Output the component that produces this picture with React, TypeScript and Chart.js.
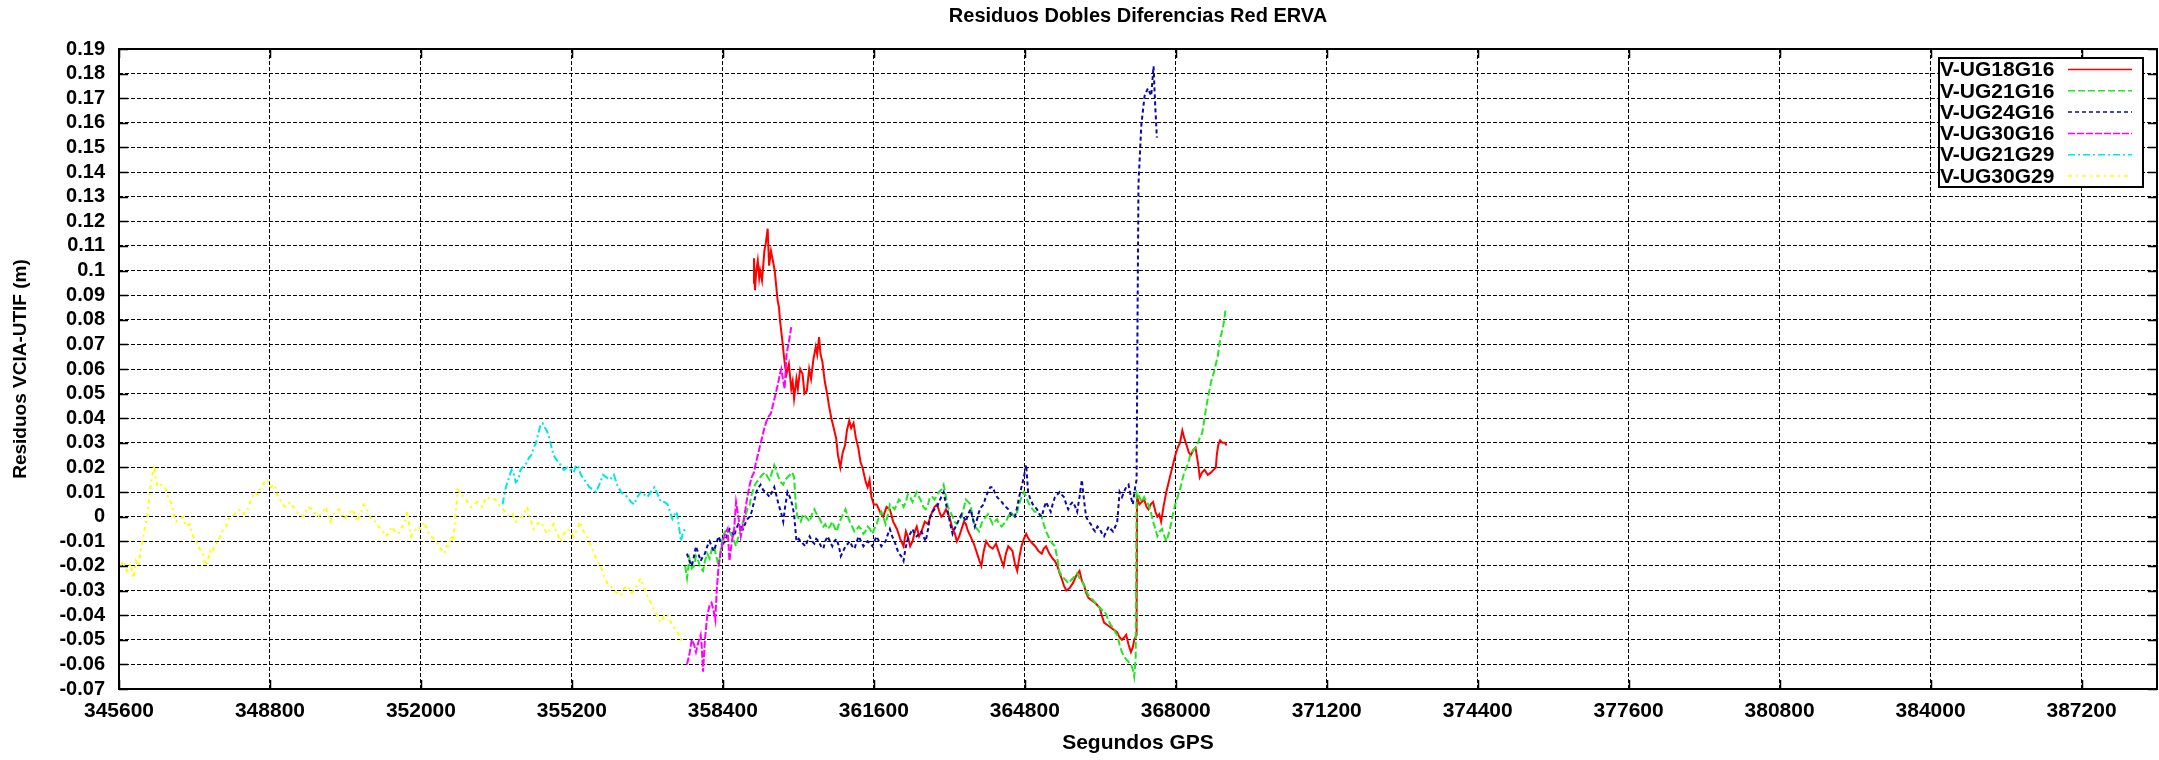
import { useEffect, useRef } from "react";
import { Chart, registerables } from "chart.js";

Chart.register(...registerables);

const FONT = "'Liberation Sans', Arial, sans-serif";

// Axis ranges (GPS seconds of week / residual in metres)
const X_MIN = 345600;
const X_MAX = 388800;
const Y_MIN = -0.07;
const Y_MAX = 0.19;
const Y_STEP = 0.01;
const xTickValues = [
  345600, 348800, 352000, 355200, 358400, 361600, 364800, 368000, 371200, 374400, 377600, 380800, 384000, 387200,
];

const TITLE = "Residuos Dobles Diferencias Red ERVA";
const X_TITLE = "Segundos GPS";
const Y_TITLE = "Residuos VCIA-UTIF (m)";

const seriesLabels = ["V-UG18G16", "V-UG21G16", "V-UG24G16", "V-UG30G16", "V-UG21G29", "V-UG30G29"];
const seriesColors = ["#ff0000", "#22e622", "#0a0aa8", "#ff00ff", "#00e6e6", "#ffff00"];
const seriesDashes = [[], [7, 3], [4, 3], [7, 2], [7, 3, 2, 3], [4, 4, 2, 4]];

// V-UG18G16
const ug18g16Time = [
  359040, 359060, 359080, 359110, 359140, 359170, 359190, 359230, 359260, 359280, 359310, 359350, 359380, 359420,
  359460, 359500, 359530, 359560, 359590, 359610, 359640, 359670, 359690, 359720, 359750, 359800, 359850, 359880,
  359910, 359960, 359990, 360040, 360090, 360130, 360180, 360230, 360270, 360320, 360370, 360400, 360440, 360470,
  360510, 360560, 360610, 360650, 360700, 360750, 360800, 360840, 360890, 360940, 360990, 361030, 361080, 361120,
  361170, 361220, 361270, 361320, 361360, 361430, 361470, 361510, 361550, 361600, 361660, 361730, 361800, 361870,
  361940, 362010, 362090, 362160, 362230, 362280, 362320, 362370, 362420, 362470, 362510, 362560, 362610, 362680,
  362750, 362800, 362840, 362890, 362940, 362990, 363030, 363080, 363130, 363200, 363270, 363320, 363360, 363410,
  363460, 363510, 363550, 363600, 363650, 363720, 363790, 363840, 363880, 363930, 363980, 364050, 364120, 364190,
  364260, 364310, 364350, 364400, 364450, 364500, 364540, 364590, 364640, 364690, 364730, 364780, 364830, 364880,
  364920, 364970, 365020, 365090, 365160, 365200, 365250, 365320, 365390, 365440, 365490, 365540, 365580, 365630,
  365680, 365750, 365820, 365890, 365960, 366010, 366060, 366100, 366150, 366220, 366290, 366340, 366390, 366430,
  366480, 366550, 366620, 366690, 366760, 366810, 366860, 366910, 366950, 367000, 367050, 367090, 367120, 367170,
  367180, 367230, 367280, 367330, 367380, 367420, 367470, 367520, 367570, 367610, 367650, 367690, 367740, 367800,
  367850, 367900, 367940, 367990, 368040, 368090, 368140, 368180, 368230, 368280, 368320, 368370, 368420, 368470,
  368510, 368560, 368610, 368680, 368750, 368800, 368850, 368870, 368900, 368940, 368990, 369040, 369080,
];
const ug18g16Res = [
  0.095, 0.105, 0.092, 0.1, 0.104, 0.097, 0.1, 0.096, 0.103, 0.108, 0.111, 0.117, 0.102, 0.108,
  0.104, 0.1, 0.094, 0.088, 0.085, 0.08, 0.075, 0.07, 0.066, 0.061, 0.058, 0.062, 0.052, 0.055,
  0.048, 0.056, 0.052, 0.06, 0.058, 0.05, 0.051, 0.06, 0.056, 0.064, 0.069, 0.066, 0.073, 0.066,
  0.063, 0.055, 0.05, 0.045, 0.04, 0.036, 0.032, 0.025, 0.02, 0.026, 0.029, 0.035, 0.039, 0.036,
  0.038, 0.032, 0.028, 0.022, 0.02, 0.014, 0.012, 0.015, 0.008, 0.005, 0.005, 0.002, 0.0, 0.004,
  0.003, -0.002, -0.005, -0.009, -0.012, -0.006, -0.008, -0.012, -0.01, -0.006, -0.004, -0.008, -0.006, -0.002,
  -0.003, 0.0, 0.002, 0.004, 0.005, 0.002, 0.0, 0.001, 0.003, 0.0, -0.005, -0.007, -0.01, -0.008,
  -0.005, -0.002, -0.003, -0.006, -0.008, -0.011, -0.015, -0.018, -0.02, -0.014, -0.01, -0.012, -0.013, -0.011,
  -0.015, -0.018, -0.02, -0.015, -0.012, -0.013, -0.014, -0.019, -0.022, -0.016, -0.012, -0.009, -0.007, -0.009,
  -0.01, -0.011, -0.012, -0.014, -0.015, -0.013, -0.012, -0.015, -0.017, -0.018, -0.02, -0.023, -0.025, -0.028,
  -0.03, -0.029, -0.027, -0.024, -0.022, -0.026, -0.028, -0.031, -0.033, -0.034, -0.035, -0.036, -0.037, -0.04,
  -0.043, -0.044, -0.045, -0.046, -0.047, -0.049, -0.05, -0.049, -0.048, -0.052, -0.055, -0.053, -0.05, -0.048,
  0.008, 0.005, 0.006, 0.007, 0.004, 0.003, 0.005, 0.006, 0.002, 0.0, 0.001, -0.002, 0.004, 0.01,
  0.014, 0.018, 0.021, 0.025, 0.028, 0.03, 0.035, 0.032, 0.029, 0.026, 0.025, 0.027, 0.028, 0.022,
  0.016, 0.018, 0.019, 0.017, 0.018, 0.019, 0.02, 0.025, 0.029, 0.031, 0.03, 0.03, 0.029,
];

// V-UG21G16
const ug21g16Time = [
  357600, 357640, 357690, 357740, 357790, 357830, 357880, 357930, 357980, 358020, 358070, 358120, 358170, 358210,
  358260, 358310, 358350, 358400, 358450, 358500, 358540, 358590, 358640, 358680, 358730, 358780, 358830, 358870,
  358920, 358970, 359010, 359060, 359110, 359160, 359230, 359300, 359350, 359390, 359440, 359490, 359530, 359580,
  359630, 359680, 359720, 359770, 359820, 359870, 359910, 359930, 359950, 359980, 360020, 360050, 360100, 360150,
  360200, 360240, 360290, 360340, 360390, 360430, 360480, 360530, 360570, 360620, 360670, 360720, 360760, 360810,
  360860, 360900, 360950, 361000, 361050, 361090, 361140, 361190, 361240, 361280, 361330, 361380, 361420, 361470,
  361520, 361570, 361610, 361660, 361710, 361760, 361800, 361850, 361900, 361940, 361990, 362040, 362090, 362130,
  362180, 362230, 362280, 362320, 362370, 362420, 362460, 362510, 362560, 362610, 362650, 362700, 362750, 362790,
  362840, 362890, 362940, 362980, 363030, 363080, 363120, 363170, 363220, 363270, 363310, 363360, 363410, 363460,
  363500, 363550, 363600, 363650, 363690, 363740, 363790, 363830, 363880, 363930, 363980, 364020, 364070, 364120,
  364160, 364210, 364260, 364310, 364350, 364400, 364450, 364500, 364540, 364590, 364640, 364680, 364730, 364780,
  364830, 364870, 364920, 364970, 365010, 365060, 365110, 365160, 365200, 365250, 365300, 365350, 365390, 365440,
  365490, 365530, 365580, 365630, 365680, 365720, 365770, 365820, 365870, 365910, 365960, 366010, 366060, 366100,
  366150, 366200, 366250, 366290, 366340, 366390, 366440, 366480, 366530, 366570, 366620, 366670, 366720, 366760,
  366810, 366860, 366910, 366950, 367000, 367050, 367090, 367120, 367150, 367170, 367230, 367280, 367330, 367380,
  367420, 367470, 367520, 367570, 367610, 367660, 367710, 367760, 367800, 367850, 367900, 367940, 367990, 368040,
  368090, 368140, 368180, 368230, 368280, 368320, 368370, 368420, 368470, 368510, 368560, 368610, 368650, 368700,
  368750, 368800, 368850, 368890, 368940, 368990, 369030, 369060,
];
const ug21g16Res = [
  -0.02, -0.025, -0.017, -0.021, -0.02, -0.016, -0.018, -0.021, -0.022, -0.018, -0.015, -0.017, -0.013, -0.012,
  -0.016, -0.02, -0.014, -0.008, -0.006, -0.005, -0.006, -0.008, -0.01, -0.012, -0.008, -0.005, -0.002, 0.0,
  0.003, 0.005, 0.009, 0.012, 0.014, 0.015, 0.017, 0.018, 0.016, 0.015, 0.018, 0.021, 0.019, 0.016,
  0.014, 0.013, 0.015, 0.016, 0.017, 0.018, 0.016, 0.01, 0.004, 0.0, -0.001, -0.002, 0.001, 0.0,
  -0.001, -0.002, 0.001, 0.003, 0.001, 0.0, -0.002, -0.004, -0.003, -0.005, -0.004, -0.002, -0.004, -0.006,
  -0.003, -0.001, 0.001, 0.003, 0.0, -0.002, -0.004, -0.006, -0.005, -0.004, -0.005, -0.007, -0.006, -0.004,
  -0.005, -0.007, -0.005, -0.003, 0.0, 0.002, 0.0, -0.003, 0.001, 0.005, 0.004, 0.003, 0.005, 0.007,
  0.006, 0.004, 0.006, 0.009, 0.008, 0.006, 0.008, 0.01, 0.008, 0.006, 0.004, 0.003, 0.005, 0.008,
  0.008, 0.007, 0.009, 0.01, 0.011, 0.013, 0.009, 0.004, 0.002, 0.0, -0.002, -0.003, -0.001, 0.0,
  0.003, 0.007, 0.006, 0.005, 0.0, -0.004, -0.005, -0.006, -0.003, -0.001, 0.0, 0.001, -0.001, -0.003,
  -0.002, -0.001, -0.003, -0.004, -0.003, -0.002, 0.0, 0.002, 0.001, 0.0, 0.002, 0.005, 0.008, 0.01,
  0.008, 0.006, 0.004, 0.003, 0.002, 0.002, 0.001, 0.0, -0.003, -0.006, -0.008, -0.01, -0.011, -0.012,
  -0.017, -0.022, -0.024, -0.025, -0.026, -0.027, -0.026, -0.025, -0.024, -0.023, -0.025, -0.026, -0.028, -0.03,
  -0.032, -0.033, -0.034, -0.035, -0.036, -0.037, -0.038, -0.038, -0.04, -0.042, -0.044, -0.045, -0.047, -0.048,
  -0.052, -0.055, -0.057, -0.058, -0.059, -0.06, -0.062, -0.065, -0.058, 0.01, 0.008, 0.006, 0.008, 0.006,
  0.005, 0.002, -0.002, -0.005, -0.008, -0.006, -0.005, -0.008, -0.01, -0.007, -0.003, 0.001, 0.005, 0.008,
  0.011, 0.015, 0.018, 0.02, 0.023, 0.026, 0.027, 0.028, 0.03, 0.032, 0.034, 0.04, 0.045, 0.05,
  0.055, 0.058, 0.062, 0.065, 0.072, 0.076, 0.08, 0.085,
];

// V-UG24G16
const ug24g16Time = [
  357640, 357690, 357740, 357790, 357830, 357880, 357930, 357980, 358020, 358070, 358120, 358160, 358210, 358260,
  358310, 358350, 358400, 358450, 358500, 358540, 358590, 358640, 358680, 358730, 358780, 358830, 358870, 358920,
  358970, 359010, 359060, 359110, 359160, 359200, 359250, 359300, 359350, 359390, 359440, 359490, 359530, 359580,
  359630, 359680, 359720, 359770, 359820, 359870, 359910, 359960, 360010, 360050, 360100, 360150, 360190, 360240,
  360290, 360340, 360380, 360430, 360480, 360530, 360570, 360620, 360670, 360720, 360760, 360810, 360860, 360900,
  360950, 361000, 361050, 361090, 361140, 361190, 361240, 361280, 361330, 361380, 361420, 361470, 361520, 361570,
  361610, 361660, 361710, 361760, 361800, 361850, 361900, 361940, 361990, 362040, 362090, 362130, 362180, 362230,
  362270, 362320, 362370, 362420, 362460, 362510, 362560, 362610, 362650, 362700, 362750, 362790, 362840, 362890,
  362940, 362980, 363030, 363080, 363120, 363170, 363220, 363270, 363310, 363360, 363410, 363460, 363500, 363550,
  363600, 363650, 363690, 363740, 363790, 363830, 363880, 363930, 363970, 364020, 364070, 364120, 364160, 364210,
  364260, 364310, 364350, 364400, 364450, 364500, 364540, 364590, 364640, 364680, 364730, 364780, 364830, 364870,
  364920, 364970, 365010, 365060, 365110, 365160, 365200, 365250, 365300, 365350, 365390, 365440, 365490, 365540,
  365580, 365630, 365680, 365720, 365770, 365820, 365870, 365910, 365960, 366010, 366060, 366100, 366150, 366200,
  366250, 366290, 366340, 366390, 366440, 366480, 366530, 366580, 366620, 366670, 366720, 366760, 366810, 366860,
  366900, 366950, 367000, 367050, 367090, 367140, 367170, 367190, 367210, 367270, 367340, 367410, 367480, 367530,
  367560, 367600,
];
const ug24g16Res = [
  -0.015, -0.018, -0.02, -0.016, -0.012, -0.015, -0.018, -0.016, -0.015, -0.012, -0.01, -0.012, -0.014, -0.011,
  -0.008, -0.01, -0.011, -0.01, -0.007, -0.005, -0.006, -0.008, -0.005, -0.003, -0.004, -0.005, -0.003, -0.001,
  0.0, 0.002, 0.006, 0.01, 0.012, 0.013, 0.011, 0.01, 0.009, 0.008, 0.01, 0.012, 0.009, 0.005,
  0.002, -0.002, 0.004, 0.01, 0.008, 0.005, 0.001, -0.01, -0.009, -0.01, -0.011, -0.012, -0.01, -0.008,
  -0.01, -0.011, -0.009, -0.01, -0.012, -0.013, -0.01, -0.008, -0.01, -0.012, -0.01, -0.009, -0.012, -0.016,
  -0.014, -0.012, -0.011, -0.01, -0.012, -0.013, -0.01, -0.008, -0.01, -0.012, -0.011, -0.01, -0.011, -0.012,
  -0.01, -0.008, -0.01, -0.012, -0.011, -0.01, -0.007, -0.005, -0.008, -0.01, -0.013, -0.015, -0.016, -0.018,
  -0.013, -0.009, -0.007, -0.005, -0.007, -0.008, -0.007, -0.006, -0.008, -0.01, -0.005, 0.0, 0.002, 0.003,
  0.004, 0.006, 0.008, 0.01, 0.006, 0.002, -0.003, -0.007, -0.005, -0.003, -0.001, 0.001, 0.0, -0.002,
  0.001, 0.003, 0.0, -0.004, -0.001, 0.002, 0.004, 0.005, 0.008, 0.01, 0.012, 0.012, 0.01, 0.008,
  0.007, 0.006, 0.005, 0.004, 0.003, 0.001, 0.0, 0.0, 0.004, 0.008, 0.012, 0.016, 0.021, 0.01,
  0.007, 0.005, 0.004, 0.003, 0.001, 0.0, 0.003, 0.006, 0.004, 0.002, 0.005, 0.008, 0.009, 0.01,
  0.009, 0.008, 0.005, 0.003, 0.005, 0.006, 0.004, 0.002, 0.008, 0.015, 0.006, 0.0, -0.002, -0.003,
  -0.005, -0.006, -0.004, -0.005, -0.007, -0.008, -0.006, -0.004, -0.005, -0.006, -0.004, -0.002, 0.01, 0.008,
  0.01, 0.012, 0.013, 0.008, 0.005, 0.012, 0.015, 0.08, 0.135, 0.159, 0.171, 0.174, 0.171, 0.183,
  0.169, 0.154,
];

// V-UG30G16
const ug30g16Time = [
  357640, 357690, 357740, 357790, 357830, 357880, 357930, 357950, 357980, 358020, 358070, 358120, 358160, 358200,
  358240, 358270, 358310, 358350, 358400, 358450, 358500, 358540, 358590, 358640, 358680, 358730, 358780, 358830,
  358870, 358920, 358970, 359010, 359060, 359100, 359140, 359190, 359230, 359280, 359330, 359380, 359420, 359470,
  359520, 359570, 359610, 359640, 359680, 359710, 359750, 359800, 359850,
];
const ug30g16Res = [
  -0.06, -0.056, -0.05, -0.052, -0.055, -0.051, -0.048, -0.052, -0.063, -0.05, -0.04, -0.036, -0.035, -0.038,
  -0.042, -0.03, -0.02, -0.015, -0.01, -0.007, -0.005, -0.018, -0.01, -0.005, 0.006, 0.0, -0.008, -0.003,
  0.002, 0.008, 0.013, 0.016, 0.018, 0.022, 0.025, 0.029, 0.032, 0.036, 0.039, 0.041, 0.042, 0.046,
  0.05, 0.054, 0.058, 0.06, 0.055, 0.052, 0.066, 0.071, 0.077,
];

// V-UG21G29
const ug21g29Time = [
  353730, 353800, 353870, 353920, 353960, 354010, 354060, 354110, 354150, 354200, 354250, 354290, 354340, 354390,
  354440, 354490, 354530, 354580, 354630, 354670, 354720, 354770, 354810, 354880, 354960, 355030, 355100, 355170,
  355240, 355290, 355340, 355390, 355430, 355500, 355570, 355640, 355710, 355780, 355860, 355930, 356000, 356050,
  356090, 356160, 356240, 356310, 356380, 356450, 356520, 356590, 356660, 356730, 356800, 356870, 356950, 357020,
  357090, 357160, 357230, 357280, 357330, 357380, 357420, 357470, 357510, 357560, 357610,
];
const ug21g29Res = [
  0.005, 0.012, 0.016, 0.019, 0.018, 0.014, 0.015, 0.019, 0.02, 0.021, 0.022, 0.024, 0.025, 0.028,
  0.03, 0.034, 0.037, 0.038, 0.036, 0.035, 0.032, 0.028, 0.025, 0.023, 0.021, 0.019, 0.02, 0.019,
  0.018, 0.021, 0.02, 0.017, 0.016, 0.014, 0.012, 0.011, 0.01, 0.013, 0.017, 0.016, 0.015, 0.016,
  0.017, 0.013, 0.01, 0.009, 0.008, 0.006, 0.005, 0.008, 0.01, 0.009, 0.008, 0.01, 0.012, 0.009,
  0.006, 0.006, 0.005, 0.002, -0.001, 0.001, 0.002, -0.004, -0.01, -0.006, -0.005,
];

// V-UG30G29
const ug30g29Time = [
  345630, 345700, 345770, 345840, 345910, 345960, 346010, 346060, 346100, 346150, 346200, 346240, 346290, 346340,
  346390, 346430, 346500, 346575, 346640, 346720, 346770, 346810, 346880, 346950, 347020, 347100, 347170, 347240,
  347310, 347380, 347430, 347480, 347530, 347570, 347640, 347710, 347780, 347850, 347920, 348000, 348090, 348190,
  348260, 348330, 348400, 348470, 348540, 348610, 348680, 348750, 348820, 348900, 348950, 348990, 349060, 349130,
  349230, 349320, 349420, 349510, 349600, 349700, 349800, 349890, 349980, 350080, 350170, 350270, 350360, 350460,
  350550, 350650, 350720, 350790, 350840, 350880, 350950, 351030, 351100, 351170, 351240, 351310, 351380, 351450,
  351520, 351600, 351660, 351710, 351750, 351790, 351860, 351930, 352000, 352070, 352140, 352210, 352280, 352350,
  352420, 352490, 352540, 352590, 352640, 352690, 352730, 352780, 352850, 352920, 352990, 353060, 353130, 353200,
  353300, 353390, 353490, 353580, 353650, 353730, 353800, 353870, 353940, 354010, 354080, 354150, 354250, 354320,
  354390, 354460, 354530, 354600, 354670, 354740, 354810, 354890, 354960, 355030, 355100, 355170, 355240, 355310,
  355380, 355450, 355520, 355600, 355670, 355740, 355810, 355880, 355950, 356020, 356090, 356160, 356240, 356310,
  356380, 356450, 356520, 356590, 356660, 356730, 356800, 356870, 356950, 357020, 357090, 357160, 357230, 357300,
  357370, 357440, 357510, 357560,
];
const ug30g29Res = [
  -0.02, -0.018, -0.022, -0.019, -0.025, -0.018, -0.02, -0.014, -0.01, -0.004, 0.0, 0.008, 0.015, 0.021,
  0.014, 0.012, 0.013, 0.012, 0.008, 0.005, 0.0, -0.002, -0.001, 0.0, -0.004, -0.003, -0.008, -0.01,
  -0.013, -0.015, -0.02, -0.018, -0.014, -0.015, -0.011, -0.01, -0.006, -0.005, -0.001, 0.0, 0.002, 0.003,
  0.001, 0.003, 0.007, 0.01, 0.009, 0.012, 0.014, 0.015, 0.012, 0.013, 0.009, 0.008, 0.005, 0.004,
  0.006, 0.003, 0.001, 0.0, 0.004, 0.003, 0.0, 0.001, 0.004, -0.002, 0.002, 0.003, -0.001, 0.001,
  0.003, -0.002, 0.001, 0.005, 0.004, 0.002, -0.001, -0.002, -0.004, -0.005, -0.008, -0.007, -0.004, -0.006,
  -0.007, -0.004, -0.003, 0.002, -0.003, -0.008, -0.006, -0.004, -0.005, -0.002, -0.006, -0.008, -0.009, -0.011,
  -0.013, -0.015, -0.012, -0.012, -0.008, -0.01, 0.0, 0.011, 0.009, 0.008, 0.006, 0.004, 0.005, 0.006,
  0.004, 0.008, 0.007, 0.007, 0.005, 0.003, 0.002, 0.0, 0.001, -0.002, -0.001, 0.0, 0.004, -0.001,
  -0.005, -0.003, -0.002, -0.004, -0.007, -0.005, -0.003, -0.007, -0.01, -0.007, -0.005, -0.006, -0.008, -0.005,
  -0.002, -0.006, -0.008, -0.012, -0.015, -0.018, -0.02, -0.024, -0.027, -0.028, -0.03, -0.031, -0.032, -0.029,
  -0.028, -0.031, -0.03, -0.027, -0.025, -0.029, -0.032, -0.035, -0.038, -0.041, -0.043, -0.04, -0.04, -0.043,
  -0.045, -0.047, -0.05, -0.049,
];

const seriesTimes = [ug18g16Time, ug21g16Time, ug24g16Time, ug30g16Time, ug21g29Time, ug30g29Time];
const seriesValues = [ug18g16Res, ug21g16Res, ug24g16Res, ug30g16Res, ug21g29Res, ug30g29Res];

const toPoints = (t: number[], v: number[]) => t.map((x, i) => ({ x, y: v[i] }));

// Draws the gnuplot-style frame: key box, full border and inward tick marks.
const framePlugin = {
  id: "gnuplotFrame",
  afterDatasetsDraw(chart: any) {
    const { ctx, chartArea: a } = chart;
    const xs = chart.scales.x;
    const ys = chart.scales.y;
    ctx.save();

    // key
    const kw = 204;
    const kh = 129;
    const kx = a.right - 218;
    const ky = a.top + 9;
    ctx.fillStyle = "#ffffff";
    ctx.fillRect(kx, ky, kw, kh);
    ctx.font = `bold 21px ${FONT}`;
    ctx.textBaseline = "middle";
    ctx.textAlign = "left";
    chart.data.datasets.forEach((ds: any, i: number) => {
      const y = ky + 11.5 + i * 21.3;
      ctx.fillStyle = "#000000";
      ctx.fillText(ds.label, kx + 1, y + 1);
      ctx.strokeStyle = ds.borderColor;
      ctx.lineWidth = 1.5;
      ctx.setLineDash(ds.borderDash || []);
      ctx.beginPath();
      ctx.moveTo(kx + 129, y);
      ctx.lineTo(kx + 193, y);
      ctx.stroke();
    });
    ctx.setLineDash([]);
    ctx.strokeStyle = "#000000";
    ctx.lineWidth = 2;
    ctx.strokeRect(kx, ky, kw, kh);

    // inward tick marks on all four sides
    const tl = 9;
    ctx.lineWidth = 1.5;
    ctx.beginPath();
    xs.ticks.forEach((t: any) => {
      const px = Math.round(xs.getPixelForValue(t.value)) + 0.5;
      ctx.moveTo(px, a.bottom);
      ctx.lineTo(px, a.bottom - tl);
      ctx.moveTo(px, a.top);
      ctx.lineTo(px, a.top + tl);
    });
    ys.ticks.forEach((t: any) => {
      const py = Math.round(ys.getPixelForValue(t.value)) + 0.5;
      ctx.moveTo(a.left, py);
      ctx.lineTo(a.left + tl, py);
      ctx.moveTo(a.right, py);
      ctx.lineTo(a.right - tl, py);
    });
    ctx.stroke();

    // border
    ctx.lineWidth = 2;
    ctx.strokeRect(a.left, a.top, a.right - a.left, a.bottom - a.top);
    ctx.restore();
  },
};

export default function App() {
  const canvasRef = useRef<HTMLCanvasElement | null>(null);

  useEffect(() => {
    const canvas = canvasRef.current;
    if (!canvas) return;

    const datasets = seriesLabels.map((label, i) => ({
      label,
      data: toPoints(seriesTimes[i], seriesValues[i]),
      borderColor: seriesColors[i],
      backgroundColor: seriesColors[i],
      borderDash: seriesDashes[i],
      borderWidth: 2,
      pointRadius: 0,
      tension: 0,
      fill: false,
      order: seriesLabels.length - i,
    }));

    const chart = new Chart(canvas, {
      type: "line",
      data: { datasets },
      options: {
        animation: false,
        responsive: false,
        devicePixelRatio: 1,
        layout: { padding: { left: 0, right: 2, top: 0, bottom: 0 } },
        plugins: {
          legend: { display: false },
          tooltip: { enabled: false },
          title: {
            display: true,
            text: TITLE,
            fullSize: false,
            color: "#000000",
            font: { family: FONT, size: 20, weight: "bold" },
            padding: { top: 4, bottom: 21 },
          },
        },
        scales: {
          x: {
            type: "linear",
            min: X_MIN,
            max: X_MAX,
            afterBuildTicks: (s: any) => {
              s.ticks = xTickValues.map((value) => ({ value }));
            },
            afterFit: (s: any) => {
              s.height = 71;
            },
            ticks: {
              autoSkip: false,
              maxRotation: 0,
              padding: 10,
              color: "#000000",
              font: { family: FONT, size: 21, weight: "bold" },
              callback: (v: any) => String(v),
            },
            grid: {
              color: "#000000",
              lineWidth: 1,
              drawTicks: false,
            },
            border: { display: false, dash: [4, 2] },
            title: {
              display: true,
              text: X_TITLE,
              color: "#000000",
              font: { family: FONT, size: 21, weight: "bold" },
              padding: { top: 0, bottom: 4 },
            },
          },
          y: {
            type: "linear",
            min: Y_MIN,
            max: Y_MAX,
            afterFit: (s: any) => {
              s.width = 119;
            },
            ticks: {
              stepSize: Y_STEP,
              autoSkip: false,
              padding: 14,
              color: "#000000",
              font: { family: FONT, size: 20, weight: "bold" },
              callback: (v: any) => String(Number(Number(v).toFixed(2))),
            },
            grid: {
              color: "#000000",
              lineWidth: 1,
              drawTicks: false,
            },
            border: { display: false, dash: [4, 2] },
            title: {
              display: true,
              text: Y_TITLE,
              color: "#000000",
              font: { family: FONT, size: 19, weight: "bold" },
              padding: { top: 9, bottom: 0 },
            },
          },
        },
      },
      plugins: [framePlugin],
    });

    return () => chart.destroy();
  }, []);

  return (
    <div style={{ position: "fixed", left: 0, top: 0, width: 2159, height: 760, background: "#ffffff" }}>
      <canvas ref={canvasRef} width={2159} height={760} style={{ display: "block" }} />
    </div>
  );
}
